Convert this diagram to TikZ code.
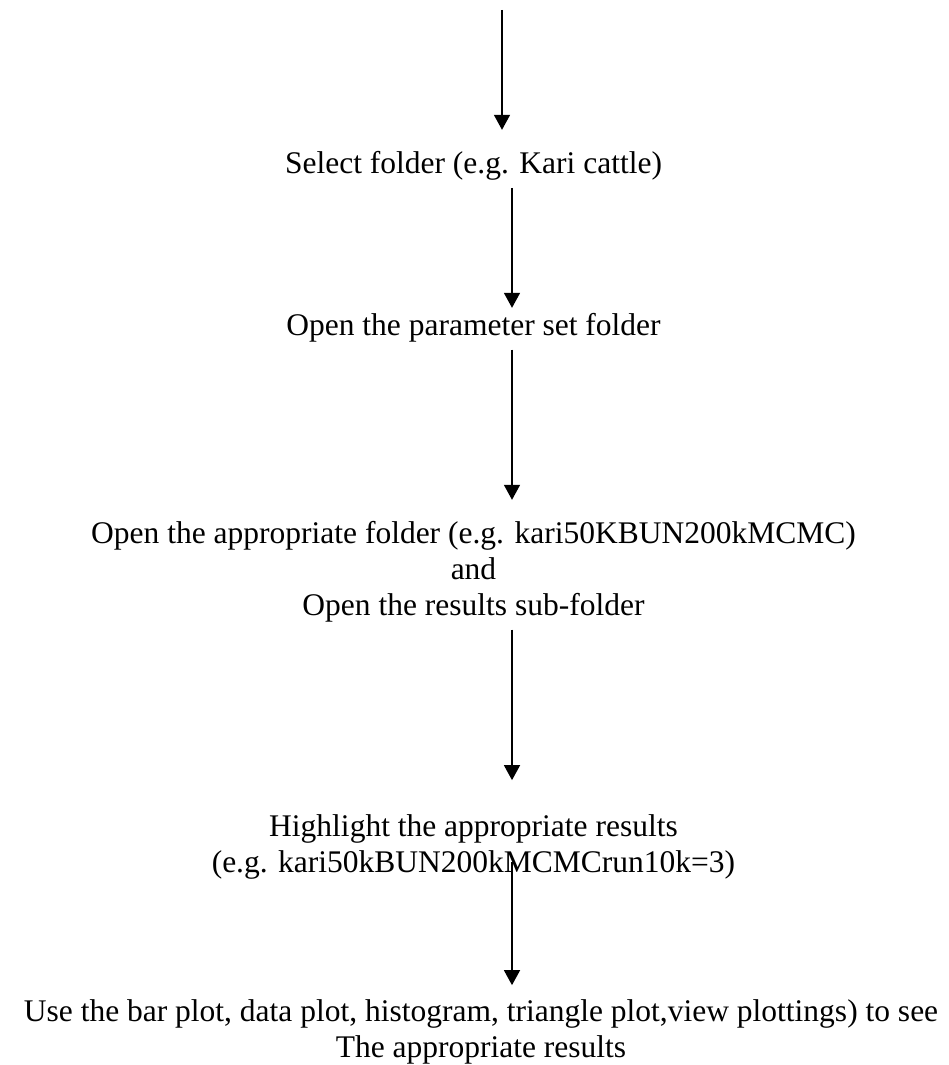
\documentclass[tikz,border=0pt]{standalone}
\usepackage{fontspec}
\setmainfont{Liberation Serif}
\usetikzlibrary{arrows.meta}
\tikzset{
  lbl/.style={inner sep=0pt, outer sep=0pt, align=center, anchor=base,
    font=\fontsize{31.5}{36}\selectfont},
  arr/.style={line width=1.5pt, -{Triangle[width=16pt,length=15pt]}}
}
\begin{document}
\begin{tikzpicture}[x=1pt,y=-1pt]
\useasboundingbox[fill=white] (0,0) rectangle (948,1065);
\coordinate (start) at (502,10);
\coordinate (ax) at (512,0);
% anchor=base of a multi-line node is the baseline of its last line
\node[lbl] (s1) at (473.5,173) {Select folder (e.g. Kari cattle)};
\node[lbl] (s2) at (473.5,335) {Open the parameter set folder};
\node[lbl] (s3) at (473.5,615) {Open the appropriate folder (e.g. kari50KBUN200kMCMC)\\and\\Open the results sub-folder};
\node[lbl] (s4) at (473.5,872) {Highlight the appropriate results\\(e.g. kari50kBUN200kMCMCrun10k=3)};
\node[lbl] (s5) at (481,1057) {Use the bar plot, data plot, histogram, triangle plot,view plottings) to see\\The appropriate results};
\draw[arr, shorten >=21pt] (start) -- (start |- s1.north);
\draw[arr, shorten <=8pt, shorten >=5pt] (s1.south -| ax) -- (s2.north -| ax);
\draw[arr, shorten <=8pt, shorten >=21pt] (s2.south -| ax) -- (s3.north -| ax);
\draw[arr, shorten <=8pt, shorten >=34pt] (s3.south -| ax) -- (s4.north -| ax);
\draw[arr, shorten <=-17pt, shorten >=14pt] (s4.south -| ax) -- (s5.north -| ax);
\end{tikzpicture}
\end{document}
